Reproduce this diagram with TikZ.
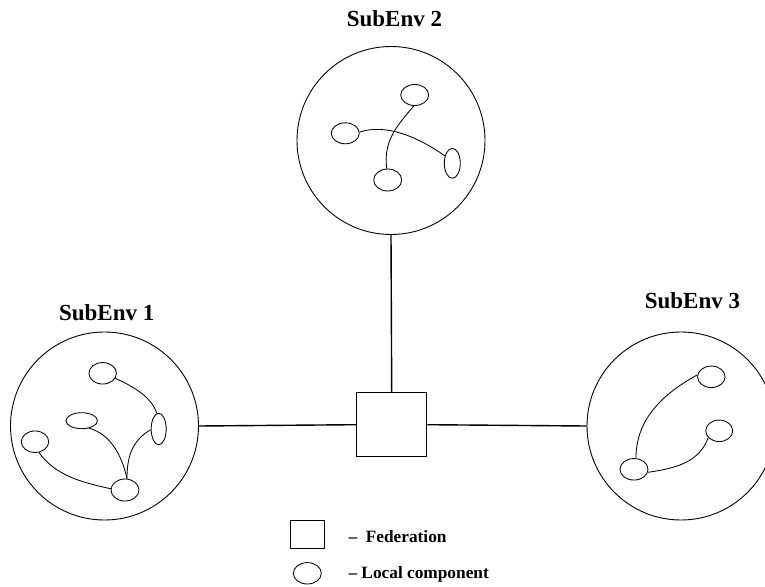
\documentclass[tikz,border=0pt]{standalone}
\usepackage{fontspec}
\setmainfont{Liberation Serif}
\usetikzlibrary{shapes.geometric}

\tikzset{
  env/.style={circle, draw, line width=0.9pt, minimum size=188pt, inner sep=0pt},
  comp/.style={ellipse, draw, line width=0.85pt, inner sep=0pt},
  link/.style={line width=0.85pt},
  fedbox/.style={rectangle, draw, line width=1.4pt, inner sep=0pt},
  bus/.style={line width=1.4pt},
  envlabel/.style={anchor=base, inner sep=0pt, font=\fontsize{23}{27}\selectfont\bfseries},
  legtext/.style={anchor=base west, inner sep=0pt, font=\fontsize{17.3}{20}\selectfont\bfseries},
}

\begin{document}
\begin{tikzpicture}[x=1pt, y=-1pt]
\path[use as bounding box, clip] (0,0) rectangle (765,586);

% sub-environments
\node[env] (c1) at (104.5,426) {};
\node[env] (c2) at (391,140.5) {};
\node[env] (c3) at (681,426) {};

\node[envlabel] (l1) at (106.7,320) {SubEnv 1};
\node[envlabel] (l2) at (394.5,26.7) {SubEnv 2};
\node[envlabel] (l3) at (692.5,308.3) {SubEnv 3};

% federation
\node[fedbox, minimum width=70pt, minimum height=64pt] (fed) at (391.7,424.7) {};
\draw[bus] (fed.north) -- (c2.south);
\draw[bus] (fed.west) -- (c1.east);
\draw[bus] (fed.east) -- (c3.west);

% components of SubEnv 2
\node[comp, minimum width=28pt, minimum height=21pt] (t2) at (414.7,95) {};
\node[comp, minimum width=28pt, minimum height=21pt] (w2) at (345.3,133.3) {};
\node[comp, minimum width=16pt, minimum height=30pt] (r2) at (452.3,163.3) {};
\node[comp, minimum width=28pt, minimum height=22pt] (b2) at (387.7,180) {};
\draw[link] (w2.5) .. controls (385,124) and (415,135) .. (r2.135);
\draw[link] (t2.-95) .. controls (398,125) and (383,140) .. (b2.95);

% components of SubEnv 1
\node[comp, minimum width=27.5pt, minimum height=21.5pt] (t1) at (102.7,373.3) {};
\node[comp, minimum width=31.5pt, minimum height=16pt] (m1) at (81.7,420.7) {};
\node[comp, minimum width=27.5pt, minimum height=21.5pt] (w1) at (35,441.7) {};
\node[comp, minimum width=15pt, minimum height=31.5pt] (r1) at (158.7,429) {};
\node[comp, minimum width=28pt, minimum height=22pt] (b1) at (125,490) {};
\draw[link] (t1.-22) .. controls (135,387) and (152,398) .. (r1.97);
\draw[link] (m1.-45) .. controls (110,434) and (122,455) .. (b1.80);
\draw[link] (r1.185) .. controls (133,440) and (127,455) .. (b1.80);
\draw[link] (w1.-70) .. controls (55,475) and (80,482) .. (b1.175);

% components of SubEnv 3
\node[comp, minimum width=27.5pt, minimum height=21.5pt] (t3) at (711.3,376.8) {};
\node[comp, minimum width=27pt, minimum height=21.5pt] (m3) at (719.2,430.8) {};
\node[comp, minimum width=28pt, minimum height=21.5pt] (q3) at (634,469.3) {};
\draw[link] (t3.172) .. controls (655,398) and (636,425) .. (q3.80);
\draw[link] (m3.212) .. controls (700,460) and (680,468) .. (q3.-12);

% legend
\node[fedbox, line width=1.3pt, minimum width=33.6pt, minimum height=27.6pt] (kfed) at (307.5,534.5) {};
\node[comp, minimum width=28pt, minimum height=21.4pt] (kcomp) at (307.3,573.3) {};
\node[legtext] (tfed) at (348.3,542.3) {–\ \ Federation};
\node[legtext] (tcomp) at (348.3,578.3) {– Local component};
\end{tikzpicture}
\end{document}
